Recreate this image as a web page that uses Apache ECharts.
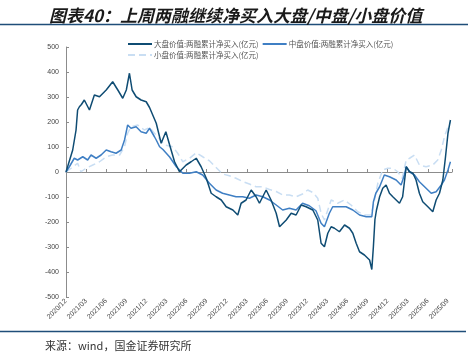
<!DOCTYPE html>
<html><head><meta charset="utf-8">
<script src="https://cdn.jsdelivr.net/npm/echarts@6/dist/echarts.min.js"></script>
<style>html,body{margin:0;padding:0;background:#fff}#c{width:476px;height:355px}</style>
</head><body><div id="c"></div>
<script>
const seriesNames = ['大盘价值:两融累计净买入(亿元)', '中盘价值:两融累计净买入(亿元)', '小盘价值:两融累计净买入(亿元)'];
const tickLabels = ['2020/12','2021/03','2021/06','2021/09','2021/12','2022/03','2022/06','2022/09','2022/12','2023/03','2023/06','2023/09','2023/12','2024/03','2024/06','2024/09','2024/12','2025/03','2025/06','2025/09'];
const yTicks = [-500,-400,-300,-200,-100,0,100,200,300,400,500];

const largeDates = ['2020-12-01','2021-01-01','2021-01-16','2021-01-23','2021-02-01','2021-02-10','2021-02-23','2021-03-16','2021-04-08','2021-05-01','2021-06-01','2021-06-30','2021-07-23','2021-08-15','2021-08-31','2021-09-15','2021-09-27','2021-10-15','2021-11-07','2021-11-30','2021-12-15','2022-01-15','2022-02-07','2022-02-28','2022-03-15','2022-04-07','2022-04-29','2022-05-29','2022-06-21','2022-07-14','2022-08-06','2022-08-29','2022-09-21','2022-10-13','2022-11-06','2022-11-28','2022-12-28','2023-01-20','2023-02-05','2023-02-27','2023-03-20','2023-04-12','2023-04-27','2023-05-27','2023-06-19','2023-07-12','2023-07-27','2023-08-27','2023-09-19','2023-10-11','2023-11-04','2023-11-26','2023-12-26','2024-01-18','2024-02-03','2024-02-18','2024-03-03','2024-03-18','2024-04-03','2024-04-25','2024-05-18','2024-06-10','2024-06-25','2024-07-10','2024-07-25','2024-08-17','2024-09-10','2024-09-20','2024-09-27','2024-10-04','2024-10-11','2024-10-25','2024-11-09','2024-11-24','2024-12-09','2024-12-24','2025-01-09','2025-01-24','2025-02-08','2025-02-24','2025-03-09','2025-03-24','2025-04-08','2025-04-23','2025-05-08','2025-06-01','2025-06-23','2025-07-08','2025-07-23','2025-08-08','2025-08-20','2025-08-31','2025-09-12'];
const largeValues = [0,88,168,248,261,270,288,248,308,301,328,361,328,295,328,395,328,301,288,281,258,195,115,161,108,41,1,28,41,55,21,-25,-85,-99,-112,-139,-152,-172,-125,-112,-72,-99,-125,-72,-112,-165,-219,-192,-165,-172,-132,-139,-152,-192,-285,-299,-245,-219,-225,-239,-212,-225,-245,-285,-319,-332,-352,-390,-300,-190,-152,-99,-65,-52,-85,-99,-112,-125,-99,21,1,-5,-32,-85,-119,-139,-159,-112,-85,-32,61,155,208];

const midDates = ['2020-12-01','2020-12-16','2021-01-08','2021-01-23','2021-02-16','2021-03-08','2021-03-23','2021-04-16','2021-05-08','2021-06-01','2021-06-23','2021-07-15','2021-08-08','2021-08-23','2021-09-07','2021-09-22','2021-10-15','2021-11-07','2021-11-30','2021-12-15','2022-01-07','2022-01-15','2022-01-30','2022-02-15','2022-03-15','2022-04-15','2022-05-14','2022-06-14','2022-07-14','2022-08-13','2022-09-13','2022-10-13','2022-11-12','2022-12-12','2023-01-12','2023-02-12','2023-03-12','2023-04-12','2023-05-12','2023-06-12','2023-07-12','2023-08-11','2023-09-11','2023-10-11','2023-11-10','2023-12-10','2024-01-10','2024-02-03','2024-02-18','2024-03-10','2024-03-25','2024-04-25','2024-05-25','2024-06-25','2024-07-25','2024-08-25','2024-09-20','2024-09-27','2024-10-08','2024-10-25','2024-11-16','2024-12-09','2025-01-09','2025-02-01','2025-02-16','2025-02-24','2025-03-09','2025-04-01','2025-04-23','2025-05-23','2025-06-16','2025-07-08','2025-08-01','2025-08-15','2025-08-31','2025-09-12'];
const midValues = [0,21,55,48,61,48,68,55,68,88,81,75,88,128,188,175,181,161,155,175,141,128,101,90,60,21,-5,-5,1,-12,-45,-72,-85,-92,-99,-99,-105,-92,-99,-112,-132,-152,-145,-152,-125,-135,-155,-205,-219,-165,-139,-139,-139,-152,-172,-179,-179,-120,-85,-59,-12,-19,-32,-52,-12,21,1,-12,-39,-65,-85,-79,-52,-32,8,41];

const smallDates = ['2020-12-01','2020-12-24','2021-01-23','2021-02-08','2021-03-01','2021-04-01','2021-05-01','2021-06-01','2021-06-30','2021-07-31','2021-08-23','2021-09-07','2021-09-22','2021-10-22','2021-11-22','2021-12-15','2022-01-07','2022-01-22','2022-02-22','2022-03-29','2022-04-21','2022-05-14','2022-06-14','2022-07-14','2022-08-13','2022-09-13','2022-10-13','2022-11-12','2022-12-12','2023-01-12','2023-02-12','2023-03-12','2023-04-12','2023-05-12','2023-06-12','2023-07-12','2023-08-11','2023-09-11','2023-10-11','2023-11-10','2023-12-03','2023-12-26','2024-01-18','2024-02-03','2024-02-18','2024-03-03','2024-03-18','2024-04-17','2024-05-18','2024-06-17','2024-07-17','2024-08-17','2024-09-17','2024-10-02','2024-10-17','2024-11-09','2024-12-01','2024-12-24','2025-01-16','2025-02-06','2025-02-24','2025-03-09','2025-04-01','2025-04-23','2025-05-23','2025-06-23','2025-07-15','2025-08-01','2025-08-15','2025-08-31','2025-09-12'];
const smallValues = [0,15,35,1,15,28,41,61,68,68,101,155,181,188,168,178,155,141,108,101,75,41,55,77,61,45,18,-8,-15,-25,-38,-48,-59,-59,-70,-78,-92,-92,-99,-88,-72,-82,-105,-165,-192,-152,-112,-125,-112,-132,-159,-172,-172,-112,-45,8,15,15,1,-25,48,55,68,28,21,28,48,88,141,181,201];

// months elapsed since 2020-12-01 (x scale unit)
function monthIndex(s){const p=s.split('-').map(Number);return (p[0]-2020)*12+(p[1]-12)+(p[2]-1)/30;}
function pairs(ds,vs){return ds.map((d,i)=>[monthIndex(d),vs[i]]);}

const colors = ['#0f4c73','#3f7fc4','#c9def3'];
const chart = echarts.init(document.getElementById('c'));
const axisFont = 'Liberation Sans, Arial, sans-serif';
chart.setOption({
  animation:false,
  title:{text:'图表40：上周两融继续净买入大盘/中盘/小盘价值',left:44,top:2,
    textStyle:{fontFamily:'Noto Sans CJK SC',fontSize:17,fontWeight:'bold',fontStyle:'italic',color:'#1a1a1a'}},
  graphic:[
    {type:'line',shape:{x1:0,y1:24.5,x2:468,y2:24.5},style:{stroke:'#1f4e79',lineWidth:1.5}},
    {type:'line',shape:{x1:0,y1:331.5,x2:466,y2:331.5},style:{stroke:'#1f4e79',lineWidth:1.5}},
    {type:'text',left:45,top:340,style:{text:'来源：wind，国金证券研究所',font:'11px "Noto Sans CJK SC"',fill:'#333'}}
  ],
  legend:{left:122,top:35,width:275,itemWidth:24,itemHeight:10,itemGap:3,
    data:seriesNames,itemStyle:{opacity:0},
    textStyle:{fontFamily:'Noto Sans CJK SC',fontSize:7.5,color:'#555',padding:[0,0,0,-3]}},
  grid:{left:66,right:24,top:47,bottom:58,containLabel:false},
  xAxis:[
    {type:'value',min:0,max:57.6,interval:3,position:'bottom',
     axisLine:{show:false,onZero:false},axisTick:{show:false},splitLine:{show:false},
     axisLabel:{rotate:45,fontSize:7,color:'#444',fontFamily:axisFont,margin:3,showMaxLabel:false,
       formatter:v=>{const k=Math.round(v/3);return Math.abs(v-k*3)<1e-6&&tickLabels[k]?tickLabels[k]:'';}}},
    {type:'value',min:0,max:57.6,interval:3,position:'top',
     axisLine:{show:true,onZero:true,lineStyle:{color:'#8c8c8c',width:1}},
     axisTick:{show:true,length:3,lineStyle:{color:'#8c8c8c'}},axisLabel:{show:false},splitLine:{show:false}}
  ],
  yAxis:{type:'value',min:yTicks[0],max:yTicks[yTicks.length-1],interval:100,
    axisLine:{show:true,lineStyle:{color:'#8c8c8c'}},
    axisTick:{show:true,inside:true,length:3,lineStyle:{color:'#8c8c8c'}},
    splitLine:{show:false},
    axisLabel:{fontSize:7,color:'#444',fontFamily:axisFont,margin:7}},
  series:[
    {name:seriesNames[0],type:'line',xAxisIndex:0,data:pairs(largeDates,largeValues),symbol:'none',z:4,
     lineStyle:{color:colors[0],width:1.5},itemStyle:{color:colors[0]}},
    {name:seriesNames[1],type:'line',xAxisIndex:0,data:pairs(midDates,midValues),symbol:'none',z:3,
     lineStyle:{color:colors[1],width:1.5},itemStyle:{color:colors[1]}},
    {name:seriesNames[2],type:'line',xAxisIndex:0,data:pairs(smallDates,smallValues),symbol:'none',z:2,
     lineStyle:{color:colors[2],width:1.5,type:[7,4]},itemStyle:{color:colors[2]}}
  ]
});
</script></body></html>
